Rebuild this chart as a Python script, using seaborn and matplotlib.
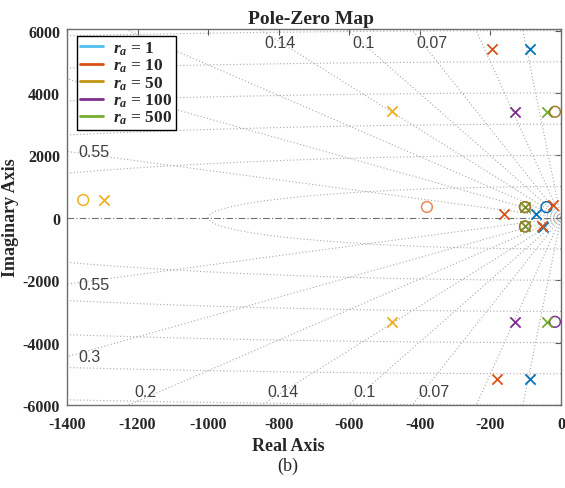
import numpy as np
import pandas as pd
import matplotlib
matplotlib.use("Agg")
import matplotlib.pyplot as plt
from matplotlib.lines import Line2D
import seaborn as sns

# ---- data: poles (x) and zeros (o) for each r_a ----
ra_labels = ["1", "10", "50", "100", "500"]

ra1_pole_re = [-88, -88, -72, -50]
ra1_pole_im = [5424, -5168, 134, -296]
ra1_zero_re = [-41]
ra1_zero_im = [342]

ra10_pole_re = [-195, -180, -161, -22, -55]
ra10_pole_im = [5424, -5168, 125, 400, -278]
ra10_zero_re = [-380]
ra10_zero_im = [346]

ra50_pole_re = [-478, -478, -1294]
ra50_pole_im = [3418, -3354, 570]
ra50_zero_re = [-1354]
ra50_zero_im = [570]
ra50b_pole_re = [-102, -102]
ra50b_pole_im = [342, -278]
ra50b_zero_re = [-102, -102, -17]
ra50b_zero_im = [342, -278, 3398]

ra100_pole_re = [-130, -130]
ra100_pole_im = [3398, -3334]
ra100_zero_re = [-17]
ra100_zero_im = [-3334]

ra500_pole_re = [-41, -41]
ra500_pole_im = [3398, -3334]
ra500_zero_re = [-102, -102]
ra500_zero_im = [342, -278]

# damping ratios and natural frequencies of the s-plane grid
zeta_vals = [0.55, 0.3, 0.2, 0.14, 0.1, 0.07, 0.04, 0.018]
zeta_labels = ["0.55", "0.3", "0.2", "0.14", "0.1", "0.07", "", ""]
wn_vals = [1000, 2000, 3000, 4000, 5000, 6000, 7000]

legend_colors = ["#4DBEEE", "#D95319", "#C29412", "#7E2F8E", "#77AC30"]

sns.set_theme(style="white")
plt.rcParams["font.family"] = ["Liberation Serif", "DejaVu Serif"]
plt.rcParams["axes.unicode_minus"] = False
plt.rcParams["mathtext.fontset"] = "custom"
plt.rcParams["mathtext.it"] = "Liberation Serif:italic:bold"
plt.rcParams["mathtext.rm"] = "Liberation Serif:bold"
plt.rcParams["mathtext.bf"] = "Liberation Serif:bold"

W, H = 565, 489
fig = plt.figure(figsize=(W / 100, H / 100), dpi=100)
ax = fig.add_axes([67 / W, 1 - 406 / H, (561 - 67) / W, (406 - 30) / H])

xmin, xmax, ymin, ymax = -1400, 0, -6000, 6050
ax.set_xlim(xmin, xmax)
ax.set_ylim(ymin, ymax)

grid_kw = dict(color="#a8a8a8", lw=0.8, ls=(0, (1, 2)), zorder=1)

# natural-frequency arcs
t = np.linspace(np.pi / 2, np.pi, 400)
for wn in wn_vals:
    ax.plot(wn * np.cos(t), wn * np.sin(t), **grid_kw)
    ax.plot(wn * np.cos(t), -wn * np.sin(t), **grid_kw)

# constant-damping rays and their labels
sans = ["Liberation Sans", "DejaVu Sans"]
zeta_texts = []
for z, lab in zip(zeta_vals, zeta_labels):
    slope = np.sqrt(1 - z ** 2) / z
    r = np.array([0, -20000])
    ax.plot(r, -slope * r, **grid_kw)
    ax.plot(r, slope * r, **grid_kw)
    if not lab:
        continue
    for sgn in (1, -1):
        yb = sgn * (ymax if sgn > 0 else -ymin)
        xi = -abs(yb) / slope
        if xi >= xmin:
            txt = ax.annotate(lab, xy=(xi, yb), xytext=(4, -10 * sgn), textcoords="offset points",
                              ha="left", va="center", fontsize=11.5, color="#404040",
                              family=sans, zorder=2)
        else:
            yi = sgn * slope * (-xmin)
            txt = ax.annotate(lab, xy=(xmin, yi), xytext=(8, 0), textcoords="offset points",
                              ha="left", va="center", fontsize=11.5, color="#404040",
                              family=sans, zorder=2)
        zeta_texts.append(txt)

# real axis
ax.axhline(0, color="#707070", lw=0.8, ls=(0, (6, 2, 1, 2)), zorder=1)


def poles(re, im, col):
    sns.scatterplot(x=re, y=im, marker="x", s=55, color=col, linewidth=1.3, ax=ax, zorder=4)


def zeros(re, im, col):
    sns.scatterplot(x=re, y=im, marker="o", s=60, facecolor="none", edgecolor=col,
                    linewidth=1.1, ax=ax, zorder=4)


poles(ra1_pole_re, ra1_pole_im, "#0072BD")
zeros(ra1_zero_re, ra1_zero_im, "#0072BD")
poles(ra10_pole_re, ra10_pole_im, "#D95319")
zeros(ra10_zero_re, ra10_zero_im, "#E8885A")
poles(ra50_pole_re, ra50_pole_im, "#EDB120")
zeros(ra50_zero_re, ra50_zero_im, "#EDB120")
poles(ra100_pole_re, ra100_pole_im, "#7E2F8E")
zeros(ra100_zero_re, ra100_zero_im, "#7E2F8E")
zeros(ra500_zero_re, ra500_zero_im, "#77AC30")
poles(ra500_pole_re, ra500_pole_im, "#77AC30")
zeros(ra50b_zero_re, ra50b_zero_im, "#A07A2A")
poles(ra50b_pole_re, ra50b_pole_im, "#7A8A2A")

# axes styling
ax.set_xticks(np.arange(-1400, 1, 200))
ax.set_yticks(np.arange(-6000, 6001, 2000))
ax.tick_params(axis="both", direction="in", length=4, width=0.8, color="#555555",
               top=True, right=True, labelsize=11.5)
ax.tick_params(axis="x", pad=8)
ax.tick_params(axis="y", pad=5)
for lab in ax.get_xticklabels() + ax.get_yticklabels():
    lab.set_fontweight("bold")
for sp in ax.spines.values():
    sp.set_color("#6e6e6e")
    sp.set_linewidth(1.0)

ax.set_title("Pole-Zero Map", fontsize=14, fontweight="bold", x=0.493, pad=4)
ax.set_xlabel("Real Axis", fontsize=13, fontweight="bold", labelpad=2)
ax.xaxis.set_label_coords(0.447, -0.085)
ax.set_ylabel("Imaginary Axis", fontsize=13, fontweight="bold")
ax.yaxis.set_label_coords(-0.097, 0.5)

handles = [Line2D([0], [0], color=c, lw=2) for c in legend_colors]
labels = [r"$r_a$ = " + s for s in ra_labels]
leg = ax.legend(handles, labels, loc="upper left", bbox_to_anchor=(10 / 494, 1 - 7 / 376),
                borderaxespad=0, frameon=True, fancybox=False, framealpha=1,
                facecolor="white", prop={"weight": "bold", "size": 12.5},
                handlelength=1.3, labelspacing=0.0, borderpad=0.2, handletextpad=0.6)
leg.get_frame().set_edgecolor("black")
leg.get_frame().set_linewidth(1.0)
leg.set_zorder(5)

# damping labels that sit under the opaque legend box are not drawn
fig.canvas.draw()
leg_box = leg.get_window_extent()
for txt in zeta_texts:
    if txt.get_window_extent().overlaps(leg_box):
        txt.remove()

fig.text(288 / W, 1 - 466 / H, "(b)", ha="center", va="center", fontsize=13)

fig.savefig("out.png", dpi=100)
